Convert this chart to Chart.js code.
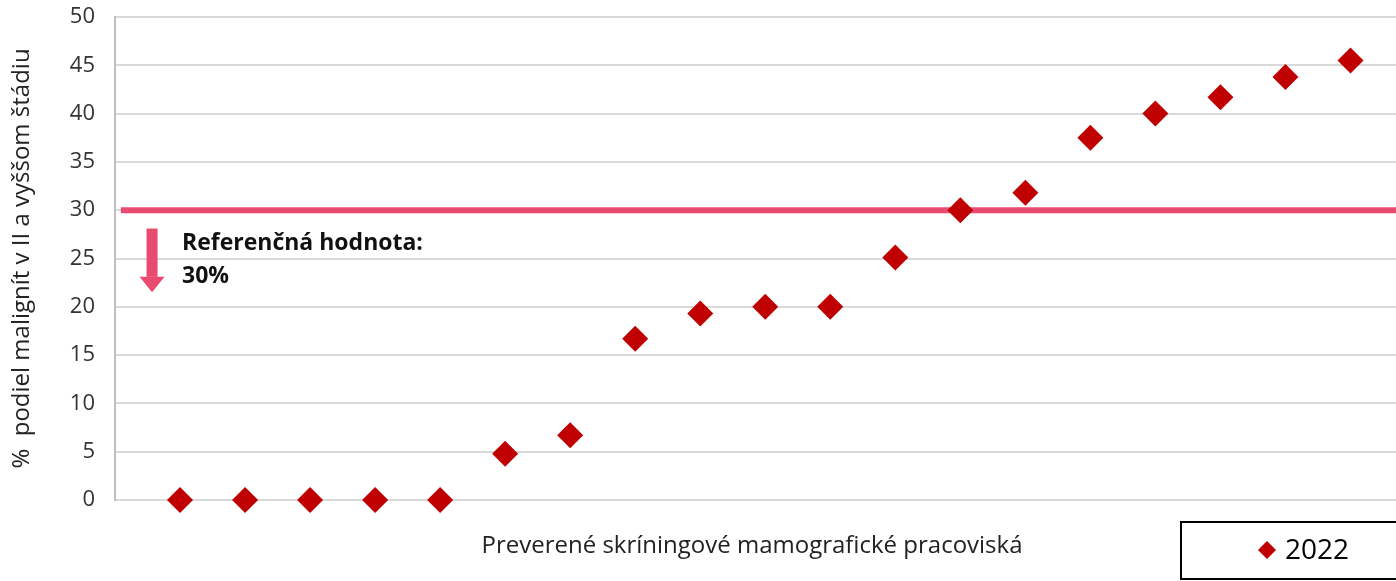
<!DOCTYPE html>
<html>
<head>
<meta charset="utf-8">
<script src="https://cdn.jsdelivr.net/npm/chart.js@4"></script>
<style>
  html, body { margin: 0; padding: 0; background: #fff; }
  #wrap { width: 1396px; height: 581px; position: relative; }
</style>
</head>
<body>
<div id="wrap"><canvas id="chart"></canvas></div>
<script>
// screening sites, ordered by share of late-stage cancers
const sites = [1, 2, 3, 4, 5, 6, 7, 8, 9, 10, 11, 12, 13, 14, 15, 16, 17, 18, 19];
const share2022 = [0, 0, 0, 0, 0, 4.8, 6.7, 16.7, 19.3, 20, 20, 25.1, 30, 31.8, 37.5, 40, 41.7, 43.8, 45.5];
const referenceValue = 30;
const yTicks = [0, 5, 10, 15, 20, 25, 30, 35, 40, 45, 50];

const RED = '#C00000';
const PINK = '#E84B6F';
const FONT = '"Open Sans", "Liberation Sans", sans-serif';

// arrow + caption + x title + boxed legend
const extras = {
  id: 'extras',
  afterDatasetsDraw(chart) {
    const { ctx, scales: { x, y } } = chart;
    ctx.save();

    // arrow pointing down from the reference line
    const ax = x.getPixelForValue(0.57);
    const top = y.getPixelForValue(28.1);
    const headStart = y.getPixelForValue(23.1);
    const tip = y.getPixelForValue(21.5);
    ctx.fillStyle = PINK;
    ctx.fillRect(ax - 5.5, top, 11, headStart - top);
    ctx.beginPath();
    ctx.moveTo(ax - 12.5, headStart);
    ctx.lineTo(ax + 12.5, headStart);
    ctx.lineTo(ax, tip);
    ctx.closePath();
    ctx.fill();

    ctx.fillStyle = '#111';
    ctx.font = 'bold 23px ' + FONT;
    ctx.textBaseline = 'alphabetic';
    ctx.textAlign = 'left';
    ctx.fillText('Referenčná hodnota:', 182, 250);
    ctx.fillText(referenceValue + '%', 182, 283);

    // x axis title
    ctx.fillStyle = '#222';
    ctx.font = '24px ' + FONT;
    ctx.textAlign = 'center';
    ctx.textBaseline = 'middle';
    ctx.fillText('Preverené skríningové mamografické pracoviská', 752, 546);

    // legend box
    const ds = chart.data.datasets[0];
    ctx.strokeStyle = '#000';
    ctx.lineWidth = 2;
    ctx.strokeRect(1181, 522, 240, 57);
    ctx.fillStyle = ds.backgroundColor;
    ctx.beginPath();
    ctx.moveTo(1267, 541);
    ctx.lineTo(1276, 550);
    ctx.lineTo(1267, 559);
    ctx.lineTo(1258, 550);
    ctx.closePath();
    ctx.fill();
    ctx.fillStyle = '#000';
    ctx.font = '28px ' + FONT;
    ctx.textAlign = 'left';
    ctx.fillText(ds.label, 1285, 551);

    ctx.restore();
  }
};

new Chart(document.getElementById('chart'), {
  type: 'scatter',
  data: {
    datasets: [
      {
        label: '2022',
        data: sites.map((s, i) => ({ x: s, y: share2022[i] })),
        pointStyle: 'rectRot',
        pointRadius: 13,
        pointHoverRadius: 13,
        backgroundColor: RED,
        borderWidth: 0,
        clip: false,
        order: 1,
      },
      {
        label: 'Referenčná hodnota',
        type: 'line',
        data: [{ x: 0.09, y: referenceValue }, { x: 19.8, y: referenceValue }],
        borderColor: PINK,
        borderWidth: 6,
        pointRadius: 0,
        order: 2,
      },
    ],
  },
  options: {
    responsive: true,
    maintainAspectRatio: false,
    animation: false,
    events: [],
    layout: { autoPadding: false, padding: { top: 17, bottom: 81, left: 0, right: 0 } },
    plugins: {
      legend: { display: false },
      tooltip: { enabled: false },
    },
    scales: {
      x: {
        type: 'linear',
        display: false,
        min: 0,
        max: 19.7,
      },
      y: {
        min: 0,
        max: 50,
        afterBuildTicks(scale) {
          scale.ticks = yTicks.map((v) => ({ value: v }));
        },
        afterFit(scale) {
          scale.width = 115;
          scale.paddingTop = 0;
          scale.paddingBottom = 0;
        },
        grid: { color: '#d9d9d9', lineWidth: 2, drawTicks: false },
        border: { color: '#bfbfbf', width: 2 },
        ticks: {
          padding: 20,
          color: '#333',
          font: { family: FONT, size: 22 },
        },
        title: {
          display: true,
          text: '%  podiel malignít v II a vyššom štádiu',
          color: '#222',
          font: { family: FONT, size: 24 },
          padding: { top: 8, bottom: 0 },
        },
      },
    },
  },
  plugins: [extras],
});
</script>
</body>
</html>
